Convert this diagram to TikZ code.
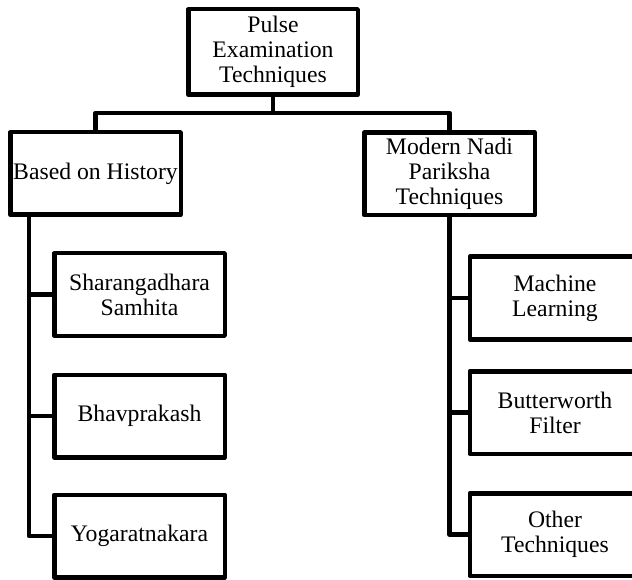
\documentclass[tikz,border=0pt]{standalone}
\usepackage{fontspec}
\setmainfont{Liberation Serif}
\usepackage{tikz}
\usetikzlibrary{positioning,calc}
\tikzset{%
  every box/.style={
    draw,
    line width=4.5pt,
    line join=round,
    align=center,
    inner sep=0pt,
    minimum width=170.5pt,
    minimum height=82.5pt,
    font=\fontsize{23.7}{25}\selectfont
  },
  link/.style={
    draw,
    line width=4.5pt,
    line join=round
  },
}

\begin{document}
\begin{tikzpicture}[x=1pt, y=-1pt]
\useasboundingbox (0,0) rectangle (632,580);
\clip (0,0) rectangle (632,580);

\node [every box, minimum width=169.5pt, minimum height=85.5pt] (root) at (273,52) {Pulse\\Examination\\Techniques};
\node [every box] (hist) at (95.5,173.5) {Based on History};
\node [every box] (modern) at (449.5,174) {Modern Nadi\\Pariksha\\Techniques};

\coordinate (bus) at (273,113);
\coordinate (hist-trunk) at (29,215);

\foreach \t/\y [count=\i] in {Sharangadhara\\Samhita/294.5, Bhavprakash/416, Yogaratnakara/536}
  \node [every box] (hist-\i) at (139.5,\y) {\t};

\foreach \t/\y [count=\i] in {Machine\\Learning/298, Butterworth\\Filter/412.5, Other\\Techniques/534.5}
  \node [every box] (modern-\i) at (555,\y) {\t};

\draw [link] (root.south) -- (bus);
\draw [link] (hist.north) |- (bus) -| (modern.north);

\foreach \i in {1,...,3}
  \draw [link] (hist-\i.west) -| (hist-trunk);
\foreach \i in {1,...,3}
  \draw [link] (modern-\i.west) -| (modern.south);

\end{tikzpicture}
\end{document}
